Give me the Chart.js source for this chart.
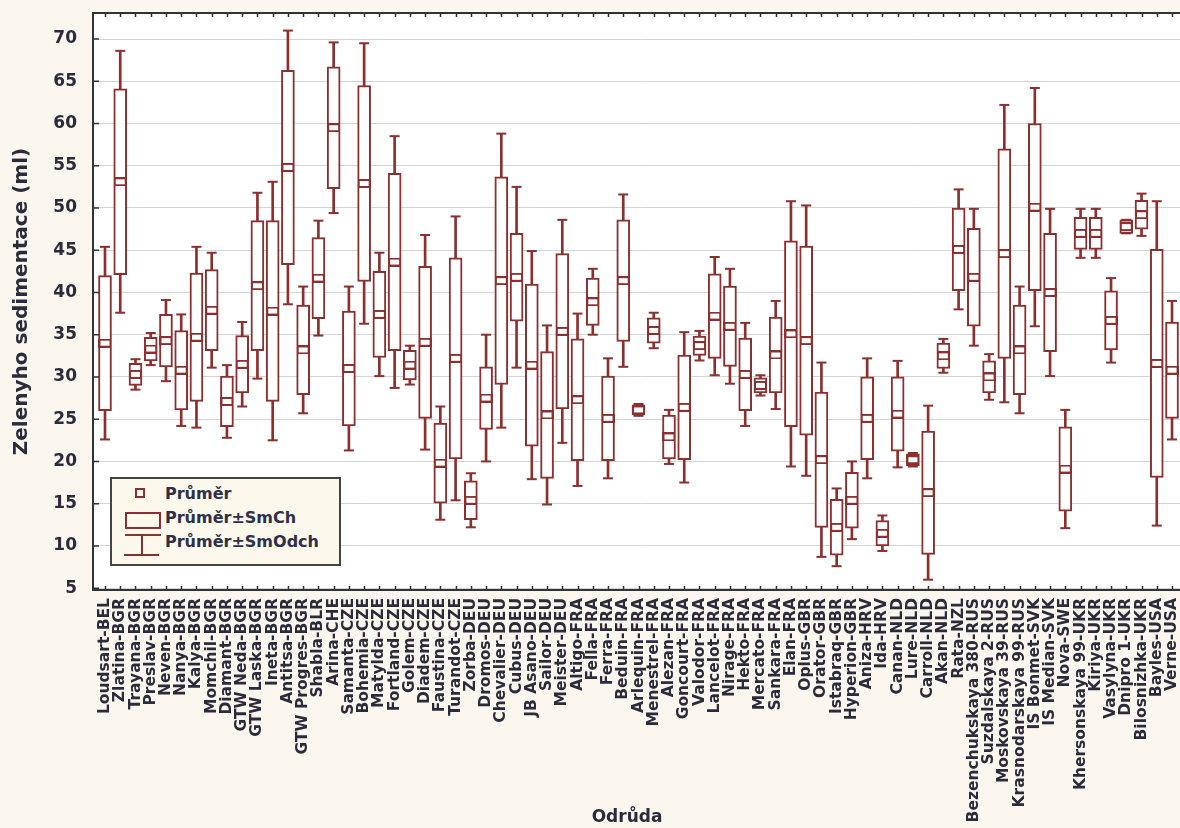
<!DOCTYPE html>
<html><head><meta charset="utf-8">
<script src="https://cdn.jsdelivr.net/npm/chart.js@4.4.1/dist/chart.umd.min.js"></script>
<style>
html,body{margin:0;padding:0;background:#fbf7ee;overflow:hidden;}
#wrap{position:relative;width:1180px;height:828px;overflow:hidden;background:#fbf7ee;}
#c{position:absolute;left:0;top:0;}
.lg{position:absolute;box-sizing:border-box;}
.lgt{position:absolute;font-family:'DejaVu Sans',sans-serif;font-weight:bold;font-size:16px;line-height:18px;color:#2f2f4a;white-space:nowrap;}
#xt{position:absolute;left:527px;width:200px;top:806px;text-align:center;font-family:'DejaVu Sans',sans-serif;font-weight:bold;font-size:17px;line-height:20px;color:#2b2b3b;}
</style></head>
<body>
<div id="wrap">
<canvas id="c" width="1200" height="828"></canvas>
<div class="lg" style="left:110px;top:477px;width:231px;height:89px;border:2px solid #444;background:#fcf8ec;"></div>
<div class="lg" style="left:135px;top:488px;width:10px;height:10px;border:2px solid #8c2f2f;"></div>
<div class="lg" style="left:125px;top:512px;width:36px;height:17px;border:2px solid #8c2f2f;"></div>
<div class="lg" style="left:125px;top:534px;width:36px;height:2px;background:#8c2f2f;"></div>
<div class="lg" style="left:141px;top:534px;width:2px;height:22px;background:#8c2f2f;"></div>
<div class="lg" style="left:124px;top:554px;width:35px;height:2px;background:#8c2f2f;"></div>
<div class="lgt" style="left:165px;top:485px;">Průměr</div>
<div class="lgt" style="left:165px;top:509px;">Průměr±SmCh</div>
<div class="lgt" style="left:165px;top:533px;">Průměr±SmOdch</div>
<div id="xt">Odrůda</div>
</div>
<script>
const categories = ["Loudsart-BEL","Zlatina-BGR","Trayana-BGR","Preslav-BGR","Neven-BGR","Nanya-BGR","Kalya-BGR","Momchil-BGR","Diamant-BGR","GTW Neda-BGR","GTW Laska-BGR","Ineta-BGR","Antitsa-BGR","GTW Progres-BGR","Shabla-BLR","Arina-CHE","Samanta-CZE","Bohemia-CZE","Matylda-CZE","Fortland-CZE","Golem-CZE","Diadem-CZE","Faustina-CZE","Turandot-CZE","Zorba-DEU","Dromos-DEU","Chevalier-DEU","Cubus-DEU","JB Asano-DEU","Sailor-DEU","Meister-DEU","Altigo-FRA","Fella-FRA","Ferra-FRA","Beduin-FRA","Arlequin-FRA","Menestrel-FRA","Alezan-FRA","Goncourt-FRA","Valodor-FRA","Lancelot-FRA","Nirage-FRA","Hekto-FRA","Mercato-FRA","Sankara-FRA","Elan-FRA","Oplus-GBR","Orator-GBR","Istabraq-GBR","Hyperion-GBR","Aniza-HRV","Ida-HRV","Canan-NLD","Lure-NLD","Carroll-NLD","Akan-NLD","Rata-NZL","Bezenchukskaya 380-RUS","Suzdalskaya 2-RUS","Moskovskaya 39-RUS","Krasnodarskaya 99-RUS","IS Bonmet-SVK","IS Median-SVK","Nova-SWE","Khersonskaya 99-UKR","Kiriya-UKR","Vasylyna-UKR","Dnipro 1-UKR","Bilosnizhka-UKR","Bayles-USA","Verne-USA"];
const means = [34.0,53.1,30.3,33.3,34.3,30.8,34.7,37.9,27.1,31.5,40.8,37.8,54.8,33.2,41.7,59.5,31.0,52.9,37.4,43.6,31.4,34.1,19.8,32.2,15.4,27.5,41.4,41.8,31.4,25.5,35.4,27.3,38.9,25.1,41.4,26.1,35.5,22.9,26.4,33.7,37.2,36.0,30.3,29.0,32.6,35.1,34.3,20.2,12.2,15.4,25.1,11.5,25.6,20.2,16.3,32.5,45.1,41.8,30.0,44.6,33.2,50.1,40.0,19.1,47.0,47.0,36.7,47.8,49.2,31.6,30.8];
const stdErr = [8.0,11.0,1.3,1.4,3.1,4.7,7.6,4.8,3.0,3.4,7.7,10.7,11.5,5.3,4.8,7.2,6.8,11.6,5.1,10.5,1.75,9.0,4.75,11.9,2.3,3.7,12.3,5.2,9.6,7.5,9.2,7.2,2.8,5.0,7.2,0.6,1.5,2.6,6.2,1.15,5.0,4.75,4.3,0.9,4.5,11.0,11.2,8.0,3.3,3.3,4.9,1.5,4.4,0.7,7.3,1.5,4.9,5.8,1.9,12.4,5.3,9.9,7.0,5.0,1.9,1.9,3.5,0.8,1.7,13.5,5.7];
const stdDev = [11.4,15.5,1.8,1.9,4.8,6.6,10.7,6.8,4.3,5.0,11.0,15.3,16.2,7.5,6.8,10.1,9.7,16.6,7.3,14.9,2.3,12.7,6.7,16.8,3.2,7.5,17.4,10.7,13.5,10.6,13.2,10.2,3.9,7.1,10.2,0.7,2.1,3.2,8.9,1.75,7.0,6.8,6.1,1.2,6.4,15.7,16.0,11.5,4.6,4.6,7.1,2.1,6.3,0.8,10.3,2.0,7.1,8.1,2.7,17.6,7.5,14.1,9.9,7.0,2.9,2.9,5.0,0.8,2.5,19.2,8.2];
const yTicks = [5,10,15,20,25,30,35,40,45,50,55,60,65,70];

const RED = '#8c2f2f';
const FONT = 'DejaVu Sans';

const meanMark = document.createElement('canvas');
meanMark.width = 13; meanMark.height = 9;
(function(){const g = meanMark.getContext('2d'); g.fillStyle='#fff'; g.fillRect(0,0,13,9); g.strokeStyle=RED; g.lineWidth=2; g.strokeRect(1,1,11,7);})();

const framePlugin = {
  id: 'frame',
  beforeDraw(chart){
    const {ctx, chartArea:a} = chart;
    ctx.save(); ctx.fillStyle = '#ffffff';
    ctx.fillRect(a.left, a.top, a.right - a.left, a.bottom - a.top);
    ctx.restore();
  },
  afterDraw(chart){
    const {ctx, chartArea:a, scales:{x, y}} = chart;
    ctx.save();
    ctx.strokeStyle = '#333'; ctx.lineWidth = 1.5;
    ctx.beginPath();
    categories.forEach((c, i) => {
      const px = Math.round(x.getPixelForValue(i)) + 0.5;
      ctx.moveTo(px, a.top); ctx.lineTo(px, a.top + 4);
      ctx.moveTo(px, a.bottom); ctx.lineTo(px, a.bottom - 4);
    });
    yTicks.forEach(v => { const py = y.getPixelForValue(v); ctx.moveTo(a.left, py); ctx.lineTo(a.left + 6, py); });
    ctx.stroke();
    ctx.lineWidth = 2;
    ctx.strokeRect(a.left, a.top, a.right - a.left, a.bottom - a.top);
    ctx.restore();
  }
};

const idx = categories.map((c, i) => i);
new Chart(document.getElementById('c'), {
  type: 'bar',
  data: {
    datasets: [
      { label:'stem', data: idx.map(i => ({x:i, y:[means[i]-stdDev[i], means[i]+stdDev[i]]})), backgroundColor: RED, borderWidth:0, barThickness:2, grouped:false, order:5 },
      { label:'box', data: idx.map(i => ({x:i, y:[means[i]-stdErr[i], means[i]+stdErr[i]]})), backgroundColor:'#ffffff', borderColor: RED, borderWidth:2, borderSkipped:false, barThickness:13, grouped:false, order:4 },
      { type:'line', label:'capHi', data: idx.map(i => ({x:i, y:means[i]+stdDev[i]})), showLine:false, pointStyle:'line', pointRadius:5, pointBorderWidth:2, pointBorderColor:RED, order:3 },
      { type:'line', label:'capLo', data: idx.map(i => ({x:i, y:means[i]-stdDev[i]})), showLine:false, pointStyle:'line', pointRadius:5, pointBorderWidth:2, pointBorderColor:RED, order:3 },
      { type:'line', label:'mean', data: idx.map(i => ({x:i, y:means[i]})), showLine:false, pointStyle: meanMark, pointRadius:5, order:1 }
    ]
  },
  options: {
    responsive:false, devicePixelRatio:1, animation:false,
    layout:{ padding:{ top:13, right:10, left:0, bottom:0 } },
    plugins:{ legend:{display:false}, tooltip:{enabled:false} },
    scales:{
      x:{ type:'linear', min:-0.787, max:71.18, offset:false,
        afterBuildTicks: ax => { ax.ticks = idx.map(i => ({value:i})); },
        ticks:{ autoSkip:false, maxRotation:90, minRotation:90, padding:8, color:'#2b2b3b',
          font:{family:FONT, weight:'bold', size:15.5}, callback: v => categories[v] },
        grid:{ display:false, drawTicks:false }, border:{display:false},
        afterFit: s => { s.height = 238; s.paddingLeft = 0; s.paddingRight = 0; } },
      y:{ type:'linear', min:4.78, max:73.08,
        afterBuildTicks: ax => { ax.ticks = yTicks.map(v => ({value:v})); },
        ticks:{ padding:16, color:'#2b2b3b', font:{family:FONT, weight:'bold', size:17} },
        grid:{ color:'#d4d4d4', lineWidth:1, drawTicks:false }, border:{display:false},
        title:{ display:true, text:'Zelenyho sedimentace (ml)', color:'#2b2b3b', font:{family:FONT, weight:'bold', size:20}, padding:{top:10, bottom:0} },
        afterFit: s => { s.width = 93; s.paddingTop = 0; s.paddingBottom = 0; } }
    }
  },
  plugins:[framePlugin]
});
</script>
</body></html>
